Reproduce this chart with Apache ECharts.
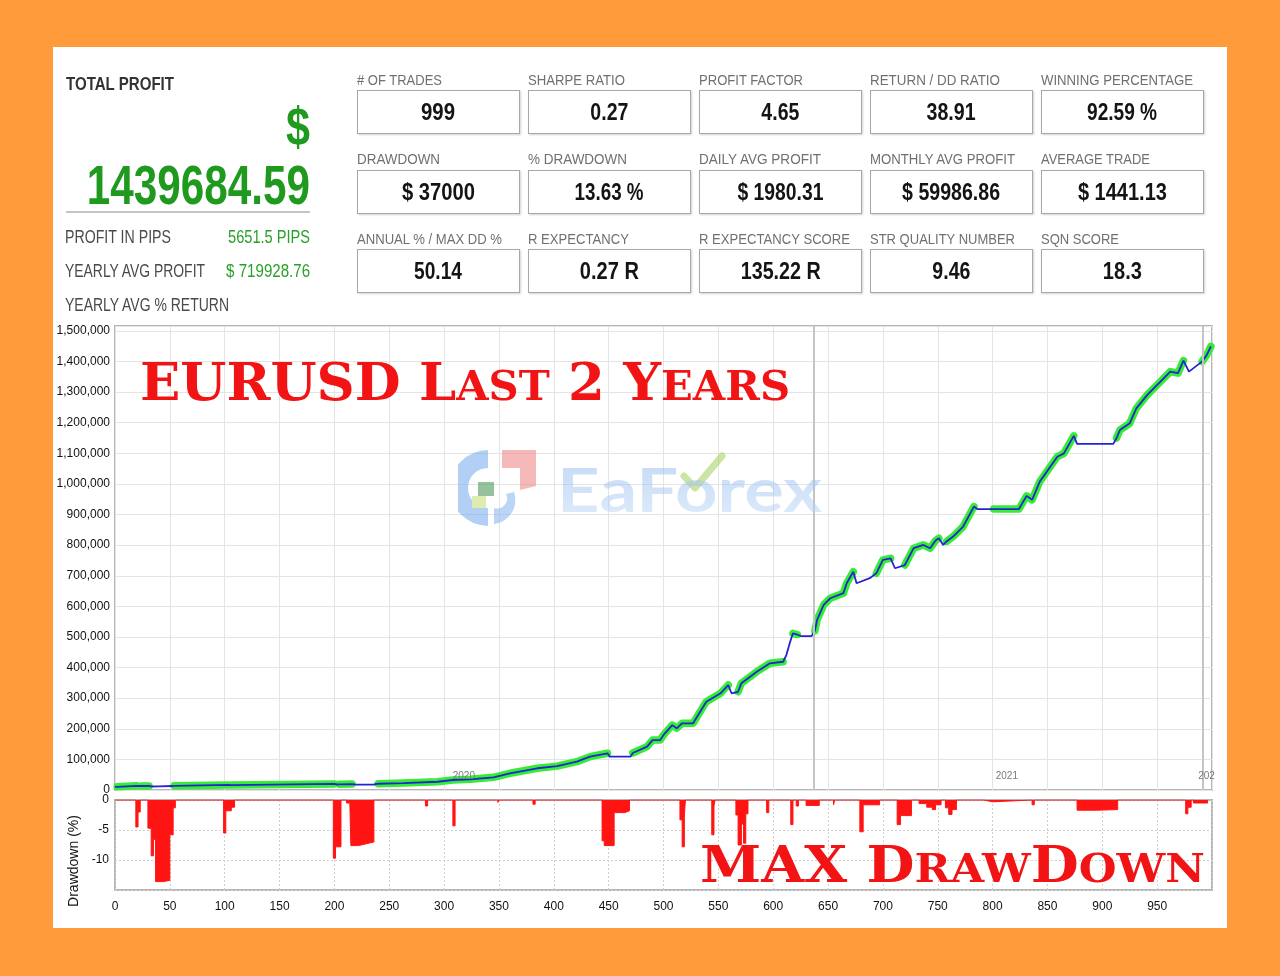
<!DOCTYPE html>
<html><head><meta charset="utf-8">
<script src="https://cdn.jsdelivr.net/npm/echarts@6/dist/echarts.min.js"></script>
<style>
html,body{margin:0;padding:0;}
body{width:1280px;height:976px;background:#FF9B3B;position:relative;overflow:hidden;font-family:"Liberation Sans",Arial,sans-serif;}
#panel{position:absolute;left:53px;top:47px;width:1174px;height:881px;background:#fff;}
#chart{position:absolute;left:0;top:0;width:1280px;height:976px;}
.t{position:absolute;white-space:nowrap;line-height:1;z-index:5;}
.box{position:absolute;border:1.5px solid #a8a8a8;box-shadow:1px 1px 2px rgba(0,0,0,0.18);background:#fff;box-sizing:border-box;z-index:4;}
#divider{position:absolute;left:66px;top:211px;width:244px;height:2px;background:#c4c4c4;}
.title{position:absolute;white-space:nowrap;line-height:1;font-family:"DejaVu Serif","Liberation Serif",serif;font-weight:700;color:#f21414;z-index:6;}
#wm{position:absolute;left:557px;top:458px;white-space:nowrap;line-height:1;font-family:Lato,"Open Sans",sans-serif;font-weight:700;font-size:61px;z-index:3;opacity:0.5;
  background:linear-gradient(180deg,#8db4ee,#b9d8f6);-webkit-background-clip:text;background-clip:text;color:transparent;transform-origin:0 50%;}
#logo{position:absolute;left:458px;top:446px;z-index:3;opacity:0.6;}
#tick{position:absolute;left:680px;top:452px;z-index:3;opacity:0.5;}
</style></head>
<body>
<div id="panel"></div>
<div id="chart"></div>
<div id="divider"></div>
<svg id="logo" width="84" height="84" viewBox="0 0 84 84">
  <path d="M30 4 A38 38 0 0 0 30 80 L30 62 A20 20 0 0 1 30 22 Z" fill="#7fb0ee"/>
  <path d="M44 4 L78 4 L78 40 L62 44 L62 22 L44 22 Z" fill="#f08a8a"/>
  <path d="M56 46 A24 24 0 0 1 36 78 L36 62 A10 10 0 0 0 48 48 Z" fill="#8fb8f0"/>
  <rect x="20" y="36" width="16" height="14" fill="#4f9a5a"/>
  <rect x="14" y="50" width="14" height="12" fill="#c9e07a"/>
</svg>
<svg id="tick" width="46" height="42" viewBox="0 0 46 42">
  <path d="M4 24 L15 36 L42 4" stroke="#9acb4a" stroke-width="7" fill="none" stroke-linecap="round" stroke-linejoin="round"/>
</svg>
<div id="wm">EaForex</div>
<script>
// ---------------- DATA ----------------
const statLabels = [
  ["# OF TRADES","SHARPE RATIO","PROFIT FACTOR","RETURN / DD RATIO","WINNING PERCENTAGE"],
  ["DRAWDOWN","% DRAWDOWN","DAILY AVG PROFIT","MONTHLY AVG PROFIT","AVERAGE TRADE"],
  ["ANNUAL % / MAX DD %","R EXPECTANCY","R EXPECTANCY SCORE","STR QUALITY NUMBER","SQN SCORE"]
];
const statValues = [
  ["999","0.27","4.65","38.91","92.59 %"],
  ["$ 37000","13.63 %","$ 1980.31","$ 59986.86","$ 1441.13"],
  ["50.14","0.27 R","135.22 R","9.46","18.3"]
];
const totalProfitLabel = "TOTAL PROFIT";
const totalProfitValue = "1439684.59";
const sideLabels = ["PROFIT IN PIPS","YEARLY AVG PROFIT","YEARLY AVG % RETURN"];
const sideValues = ["5651.5 PIPS","$ 719928.76",""];

const equityTrades = [0,2,20,23,24,31,33,40,52,54,103,104,106,200,202,205,216,220,236,240,263,294,308,324,345,360,385,403,421,433,449,451,470,472,485,490,497,500,508,512,517,527,539,552,559,562,568,571,585,597,609,612,615,618,622,625,635,638,640,646,652,664,667,673,676,688,694,700,707,711,720,728,737,743,748,751,755,758,764,773,783,786,801,824,831,836,843,859,865,874,877,910,913,916,925,931,941,953,962,969,974,979,987,991,995,999];
const equityValues = [10000,10500,13500,13000,12800,13200,11500,11800,13000,13800,16500,15600,16000,20000,18000,18500,19500,17500,18000,20500,22500,27000,32700,35000,41500,54600,71000,78000,92500,109000,120000,109000,109000,121000,141500,163000,163000,180000,212000,201600,218000,218000,288600,316000,343000,316000,321000,349000,386600,414000,419000,441000,479000,512000,508000,503000,503000,520000,555600,604600,626500,643000,675500,713000,675500,692000,708000,751600,757000,724500,735000,790000,800700,790000,815000,822600,800700,812000,828000,860000,926000,918000,918000,918000,961000,948000,1007500,1089000,1100000,1157000,1131000,1131000,1150000,1176000,1198000,1247000,1291000,1334000,1367000,1362000,1403000,1367000,1389000,1400000,1420000,1449685];
const equityGreen = [0,1,1,0,1,1,0,0,0,1,1,0,1,1,0,1,1,0,0,1,1,1,1,1,1,1,1,1,1,1,1,0,0,1,1,1,1,1,1,1,1,1,1,1,1,0,1,1,1,1,1,0,0,1,1,0,0,1,1,1,1,1,1,1,0,0,1,1,1,0,1,1,1,1,1,1,0,1,1,1,1,0,1,1,1,1,1,1,1,1,0,0,1,1,1,1,1,1,1,1,1,0,0,1,1,1];

const ddTrades = [0,19,21,23,30,33,35,37,44,50,53,55,99,101,106,109,199,201,206,211,214,215,222,229,236,283,285,308,310,349,350,381,383,444,446,455,465,469,515,517,519,520,544,546,547,566,568,571,573,575,577,594,596,616,618,621,623,630,642,655,656,679,682,697,713,716,726,733,740,745,748,753,757,760,763,767,792,800,836,838,877,895,914,976,978,981,983,996];
const ddValues = [0,-4.5,-2,0,-4.7,-9.3,-6.6,-13.6,-13.4,-5.8,-1.3,0,-5.5,-1.8,-1.2,0,-9.7,-7.8,0,-0.5,0,-7.6,-7.3,-7.0,0,-1.0,0,-4.3,0,-0.4,0,-0.7,0,-6.8,-7.6,-2.1,-1.8,0,-3.3,-7.8,-2.5,0,-5.8,-1.0,0,-2.5,-7.5,-4.0,-7.2,-2.3,0,-2.1,0,-4.1,0,-1.0,0,-0.9,0,-0.8,0,-5.3,-0.8,0,-4.1,-2.6,0,-0.6,-1.2,-1.6,-0.8,0,-1.3,-2.4,-1.6,0,-0.3,0,-0.8,0,-1.7,-1.6,0,-2.3,-1.2,0,-0.5,0];

const yearLineTrades = [637, 992];
const yearLabelTrades = [318, 813, 995];
const yearLabelTexts = ["2020", "2021", "202"];
const yearLabelLevel = 45000;

// ---------------- LAYOUT (positions / sizes only) ----------------
const colX = [357,528,699,870,1041];
const boxW = 163, boxH = 44;
const rowLabelY = [80,159,239];
const rowBoxTop = [90,170,249];
const labelW = [[85,97,104,130,152],[83,99,122,145,109],[145,101,151,145,78]];
const valueW = [[34,38,38,49,70],[73,69,86,98,89],[48,59,80,38,39]];

function addText(txt, o){
  const el=document.createElement('div'); el.className='t'; el.textContent=txt;
  el.style.fontSize=o.fs+'px'; el.style.fontWeight=o.bold?'700':'400'; el.style.color=o.color;
  document.body.appendChild(el);
  const w0=el.getBoundingClientRect().width;
  const s=o.w? o.w/w0 : 1;
  el.style.top=(o.cy - o.fs*0.49)+'px';
  if(o.anchor==='left'){el.style.left=o.x+'px'; el.style.transformOrigin='0 50%';}
  else if(o.anchor==='right'){el.style.left=(o.x-w0)+'px'; el.style.transformOrigin='100% 50%';}
  else {el.style.left=(o.x-w0/2)+'px'; el.style.transformOrigin='50% 50%';}
  el.style.transform='scaleX('+s+')';
  return el;
}

for(let r=0;r<3;r++){
  for(let c=0;c<5;c++){
    addText(statLabels[r][c],{x:colX[c],cy:rowLabelY[r],anchor:'left',w:labelW[r][c],fs:15.5,color:'#707070'});
    const b=document.createElement('div'); b.className='box';
    b.style.left=colX[c]+'px'; b.style.top=rowBoxTop[r]+'px'; b.style.width=boxW+'px'; b.style.height=boxH+'px';
    document.body.appendChild(b);
    addText(statValues[r][c],{x:colX[c]+boxW/2,cy:rowBoxTop[r]+boxH/2,anchor:'center',w:valueW[r][c],fs:24,bold:true,color:'#141414'});
  }
}
const GREEN_BIG='#1f9a1f', GREEN_SM='#2aa02a';
addText(totalProfitLabel,{x:66,cy:83,anchor:'left',w:108,fs:19,bold:true,color:'#333'});
addText('$',{x:310,cy:125,anchor:'right',w:24,fs:54,bold:true,color:GREEN_BIG});
addText(totalProfitValue,{x:310,cy:184,anchor:'right',w:223,fs:56,bold:true,color:GREEN_BIG});
const sideY=[237,271,305], sideLW=[106,140,164], sideVW=[82,84,0];
for(let i=0;i<3;i++){
  addText(sideLabels[i],{x:65,cy:sideY[i],anchor:'left',w:sideLW[i],fs:18,color:'#4a4a4a'});
  if(sideValues[i]) addText(sideValues[i],{x:310,cy:sideY[i],anchor:'right',w:sideVW[i],fs:18,color:GREEN_SM});
}

// Titles with small caps
function addTitle(parts, o){
  const el=document.createElement('div'); el.className='title';
  el.style.fontSize=o.big+'px'; el.style.left=o.x+'px'; el.style.top=o.top+'px';
  parts.forEach(p=>{const s=document.createElement('span'); s.textContent=p[0]; s.style.fontSize=(p[1]?o.small:o.big)+'px'; el.appendChild(s);});
  document.body.appendChild(el);
  const w0=el.getBoundingClientRect().width;
  el.style.transformOrigin='0 50%'; el.style.transform='scaleX('+(o.w/w0)+')';
}
addTitle([["EURUSD L",0],["AST",1],[" 2 Y",0],["EARS",1]],{x:140,top:356,w:650,big:52,small:41});
addTitle([["MAX  D",0],["RAW",1],["D",0],["OWN",1]],{x:700,top:839,w:505,big:51,small:40});

// watermark width fit
(function(){const wm=document.getElementById('wm');const w0=wm.getBoundingClientRect().width;wm.style.transform='scaleX('+(265/w0)+')';})();

// ---------------- CHART ----------------
const AX_FONT='"Liberation Sans",Arial,sans-serif';
const blueData = equityTrades.map((t,i)=>[t,equityValues[i]]);
const greenData = equityTrades.map((t,i)=> equityGreen[i] ? [t,equityValues[i]] : [t,null]);
const ddData = ddTrades.map((t,i)=>[t,ddValues[i]]);

const chart = echarts.init(document.getElementById('chart'));
chart.setOption({
  animation:false,
  grid:[
    {left:115,top:326,width:1097,height:464,show:true,borderColor:'#b6b6b6',borderWidth:2},
    {left:115,top:800,width:1097,height:90,show:true,borderColor:'#b6b6b6',borderWidth:2}
  ],
  xAxis:[
    {gridIndex:0,type:'value',min:0,max:1000,interval:50,axisLine:{show:false},axisTick:{show:false},axisLabel:{show:false},
     splitLine:{show:true,lineStyle:{color:'#e4e4e4',width:1}}},
    {gridIndex:1,type:'value',min:0,max:1000,interval:50,axisLine:{show:false},axisTick:{show:false},
     axisLabel:{show:true,showMaxLabel:false,color:'#111',fontSize:12,margin:11,fontFamily:AX_FONT},
     splitLine:{show:true,lineStyle:{color:'#cfcfcf',type:[2,2]}}}
  ],
  yAxis:[
    {gridIndex:0,type:'value',min:0,max:1516000,interval:100000,axisLine:{show:false},axisTick:{show:false},
     axisLabel:{showMaxLabel:false,color:'#111',fontSize:12,margin:5,fontFamily:AX_FONT,formatter:v=>v.toLocaleString('en-US')},
     splitLine:{show:true,lineStyle:{color:'#e4e4e4',width:1}}},
    {gridIndex:1,type:'value',min:-15,max:0,interval:5,axisLine:{show:false},axisTick:{show:false},
     axisLabel:{showMinLabel:false,color:'#111',fontSize:12,margin:6,fontFamily:AX_FONT},
     splitLine:{show:true,lineStyle:{color:'#cfcfcf',type:[2,2]}},
     name:'Drawdown (%)',nameLocation:'middle',nameRotate:90,nameGap:32,
     nameTextStyle:{fontSize:14,color:'#111',fontFamily:AX_FONT,padding:[0,32,0,0]}}
  ],
  series:[
    {type:'line',xAxisIndex:0,yAxisIndex:0,data:greenData,showSymbol:false,connectNulls:false,z:3,
     lineStyle:{color:'#36ec36',width:7.5,cap:'round',join:'round'}},
    {type:'line',xAxisIndex:0,yAxisIndex:0,data:blueData,showSymbol:false,z:4,
     lineStyle:{color:'#2424d0',width:1.8},
     markLine:{silent:true,symbol:'none',label:{show:false},lineStyle:{color:'#c4c4c4',width:2,type:'solid'},
       data:yearLineTrades.map(t=>({xAxis:t}))},
     markPoint:{silent:true,symbol:'circle',symbolSize:1,itemStyle:{color:'rgba(0,0,0,0)'},
       label:{show:true,position:'inside',color:'#7a7a7a',fontSize:10,fontFamily:AX_FONT,formatter:p=>p.name},
       data:yearLabelTrades.map((t,i)=>({name:yearLabelTexts[i],coord:[t,yearLabelLevel]}))}},
    {type:'line',xAxisIndex:1,yAxisIndex:1,data:ddData,step:'end',showSymbol:false,z:3,
     lineStyle:{color:'#ff1414',width:1},areaStyle:{color:'#ff1414',opacity:1}}
  ]
});
</script>
</body></html>
